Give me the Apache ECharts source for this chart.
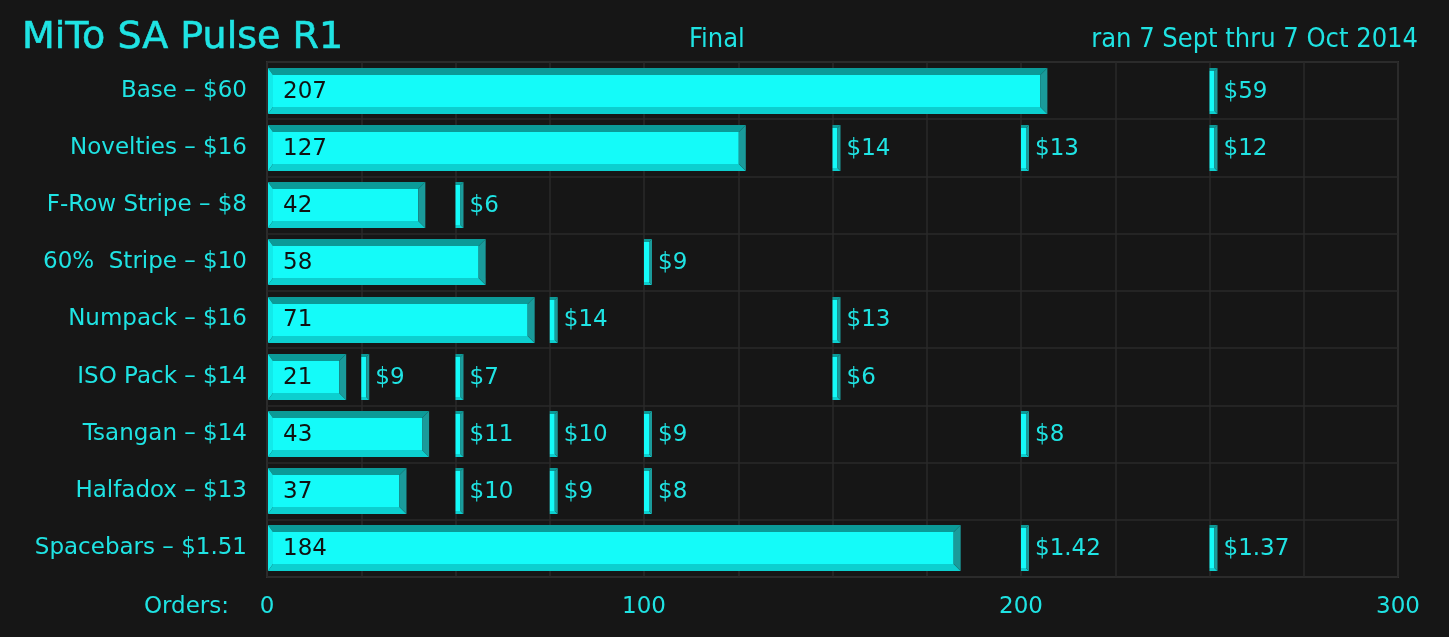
<!DOCTYPE html>
<html><head><meta charset="utf-8">
<script src="https://cdn.jsdelivr.net/npm/echarts@6/dist/echarts.min.js"></script>
<style>html,body{margin:0;padding:0;background:#161616;}#c{width:1449px;height:637px;}</style>
</head><body><div id="c"></div>
<script>
const categories = ['Base – $60','Novelties – $16','F-Row Stripe – $8','60%  Stripe – $10','Numpack – $16','ISO Pack – $14','Tsangan – $14','Halfadox – $13','Spacebars – $1.51'];
const orders = [207,127,42,58,71,21,43,37,184];
const tierThresholds = [[250],[150,200,250],[50],[100],[75,150],[25,50,150],[50,75,100,200],[50,75,100],[200,250]];
const tierPrices = [['$59'],['$14','$13','$12'],['$6'],['$9'],['$14','$13'],['$9','$7','$6'],['$11','$10','$9','$8'],['$10','$9','$8'],['$1.42','$1.37']];
const xTicks = [0,100,200,300];

const CY = '#1fe3e3';
const FONT = '"DejaVu Sans", sans-serif';
const CFONT = '"DejaVu Sans Condensed", "Liberation Sans Narrow", sans-serif';
const COL = {face:'#14fbf9', top:'#0b9a98', bottom:'#0ccfcf', left:'#12eaea', right:'#1a9b9b'};

function bevel(x,y,w,h,dl,dt,dr,db){
  return [
    {type:'rect', shape:{x:x+dl,y:y+dt,width:w-dl-dr,height:h-dt-db}, style:{fill:COL.face}},
    {type:'polygon', shape:{points:[[x,y],[x+w,y],[x+w-dr,y+dt],[x+dl,y+dt]]}, style:{fill:COL.top}},
    {type:'polygon', shape:{points:[[x,y+h],[x+w,y+h],[x+w-dr,y+h-db],[x+dl,y+h-db]]}, style:{fill:COL.bottom}},
    {type:'polygon', shape:{points:[[x,y],[x+dl,y+dt],[x+dl,y+h-db],[x,y+h]]}, style:{fill:COL.left}},
    {type:'polygon', shape:{points:[[x+w,y],[x+w-dr,y+dt],[x+w-dr,y+h-db],[x+w,y+h]]}, style:{fill:COL.right}}
  ];
}

const barData = orders.map((v,i)=>[v,i]);
const tierData = [];
tierThresholds.forEach((arr,i)=>arr.forEach((t,j)=>tierData.push([t,i,tierPrices[i][j]])));

const chart = echarts.init(document.getElementById('c'), null, {renderer:'canvas'});
chart.setOption({
  backgroundColor:'#161616',
  animation:false,
  title:[
    {text:'MiTo SA Pulse R1', left:17, top:14, textStyle:{color:CY, fontSize:38, fontWeight:'normal', fontFamily:FONT, textBorderColor:CY, textBorderWidth:0.6}},
    {text:'Final', left:684, top:21, textStyle:{color:CY, fontSize:27, fontWeight:'normal', fontFamily:CFONT}},
    {text:'ran 7 Sept thru 7 Oct 2014', right:26, top:21, textStyle:{color:CY, fontSize:27, fontWeight:'normal', fontFamily:CFONT}}
  ],
  graphic:[
    {type:'text', right:1449-229, top:596, style:{text:'Orders:', fill:CY, fontSize:23, fontFamily:FONT}}
  ],
  grid:{left:267, right:51, top:62, bottom:60, show:true, borderColor:'#333', borderWidth:2, backgroundColor:'transparent'},
  xAxis:{type:'value', min:0, max:300, interval:25,
    axisLine:{show:false}, axisTick:{show:false},
    splitLine:{show:true, lineStyle:{color:'#2a2a2a', width:1.5}},
    axisLabel:{color:CY, fontSize:23, fontFamily:FONT, margin:19,
      formatter:v=> xTicks.indexOf(v)>=0 ? String(v) : ''}},
  yAxis:{type:'category', inverse:true, data:categories,
    axisLine:{show:false}, axisTick:{show:false},
    splitLine:{show:true, lineStyle:{color:'#2a2a2a', width:1.5}},
    axisLabel:{color:CY, fontSize:23, fontFamily:FONT, margin:20}},
  series:[
    {type:'custom', data:barData, encode:{x:0,y:1},
     renderItem:function(params, api){
       const v = api.value(0), idx = api.value(1);
       const p0 = api.coord([0, idx]), p1 = api.coord([v, idx]);
       const band = api.size([0,1])[1];
       const h = Math.round(band*0.8);
       const x = p0[0]+1, y = Math.round(p0[1]-h/2), w = p1[0]-x;
       const ch = bevel(x,y,w,h,5,7,7,7);
       ch.push({type:'text', style:{text:String(v), x:x+15, y:p0[1]+1, fill:'#111', fontSize:23, fontFamily:FONT, verticalAlign:'middle', align:'left'}});
       return {type:'group', children:ch};
     }},
    {type:'custom', data:tierData, encode:{x:0,y:1},
     renderItem:function(params, api){
       const t = api.value(0), idx = api.value(1);
       const label = tierData[params.dataIndex][2];
       const p = api.coord([t, idx]);
       const band = api.size([0,1])[1];
       const h = Math.round(band*0.8);
       const x = p[0], y = Math.round(p[1]-h/2);
       const ch = bevel(x,y,8,h,0,3,3,3);
       ch.push({type:'text', style:{text:label, x:x+14, y:p[1]+1, fill:CY, fontSize:23, fontFamily:FONT, verticalAlign:'middle', align:'left'}});
       return {type:'group', children:ch};
     }}
  ]
});
</script></body></html>
